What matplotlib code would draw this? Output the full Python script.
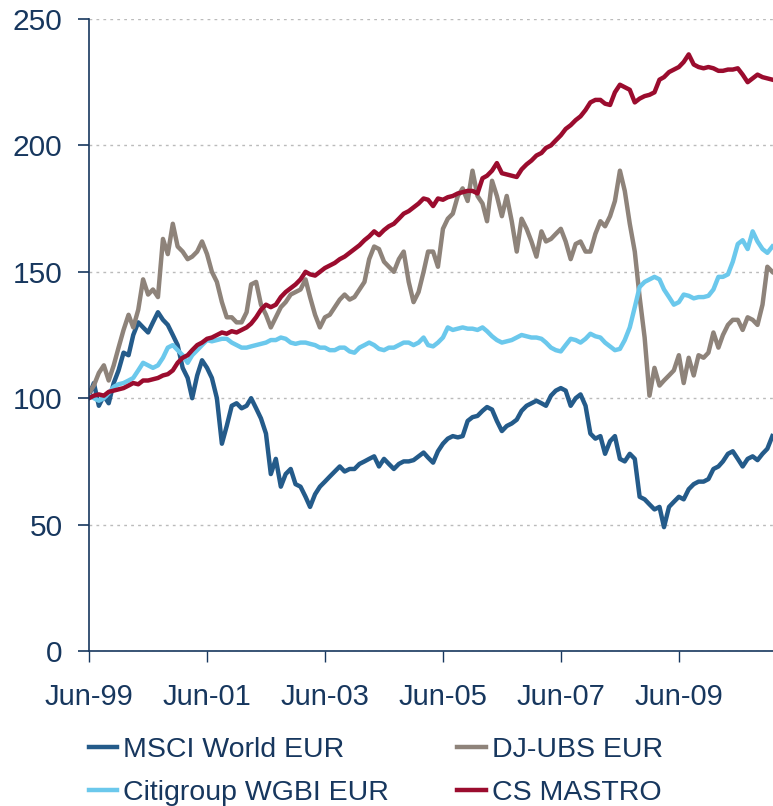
import matplotlib
matplotlib.use("Agg")
import matplotlib.pyplot as plt
import matplotlib.dates as mdates
import pandas as pd

plt.rcParams['font.family'] = ['Liberation Sans', 'DejaVu Sans']

dates = pd.date_range('1999-06-01', periods=140, freq='MS')

msci_world_eur = [
    101, 106, 97, 101, 98, 106, 111, 118, 117, 125, 130, 128, 126, 130, 134, 131, 129, 125, 121, 112,
    108, 100, 109, 115, 112, 108, 100, 82, 89, 97, 98, 96, 97, 100, 96, 92, 86, 70, 76, 65,
    70, 72, 66, 65, 61, 57, 62, 65, 67, 69, 71, 73, 71, 72, 72, 74, 75, 76, 77, 73,
    76, 74, 72, 74, 75, 75, 75.5, 77, 78.5, 76.5, 74.5, 79, 82, 84, 85, 84.5, 85, 91, 92.5, 93,
    95, 96.5, 95.5, 91, 87, 89, 90, 91.5, 95, 97, 98, 99, 98, 97, 101, 103, 104, 103, 97, 100,
    101.5, 97, 86, 84, 85, 78, 83, 85, 76, 75, 78, 76, 61, 60, 58, 56, 57, 49, 57, 59,
    61, 60, 64, 66, 67, 67, 68, 72, 73, 75, 78, 79, 76, 73, 76, 77, 75.5, 78, 80, 85,
]

dj_ubs_eur = [
    102, 105, 110, 113, 107, 113, 120, 127, 133, 128, 135, 147, 141, 143, 140, 163, 157, 169, 160, 158,
    155, 156, 158, 162, 157, 150, 146, 138, 132, 132, 130, 130, 134, 145, 146, 137, 133, 128, 132, 136,
    138, 141, 142, 143, 147, 140, 133, 128, 132, 133, 136, 139, 141, 139, 140, 143, 146, 155, 160, 159,
    154, 152, 150, 155, 158, 146, 138, 142, 150, 158, 158, 152, 167, 171, 173, 180, 183, 178, 190, 180,
    177, 170, 186, 180, 172, 180, 170, 158, 171, 167, 162, 156, 166, 162, 163, 165, 167, 162, 155, 161,
    162, 158, 158, 165, 170, 168, 172, 178, 190, 182, 169, 158, 140, 124, 101, 112, 105, 107, 109, 111,
    117, 106, 116, 109, 117, 116, 118, 126, 120, 125, 129, 131, 131, 127, 132, 131, 129, 137, 152, 150,
]

citigroup_wgbi_eur = [
    101, 100, 99, 100, 102, 104.5, 105.5, 106, 107, 108, 111, 114, 113, 112, 113, 116, 120, 121, 119, 117,
    114, 117, 119, 121, 123, 122.5, 123, 123.5, 123.5, 122, 121, 120, 120, 120.5, 121, 121.5, 122, 123, 123, 124,
    123.5, 122, 121.5, 122, 122, 121.5, 121, 120, 120, 119, 119, 120, 120, 118.5, 118, 120, 121, 122, 121, 119.5,
    119, 120, 120, 121, 122, 122, 121, 122, 124, 121, 120.5, 122, 124, 128, 127, 127.5, 128, 127.5, 127.5, 127,
    128, 126.5, 124.5, 123, 122, 122.5, 123, 124, 125, 124.5, 124, 124, 123.5, 122, 120, 119, 118.5, 121, 123.5, 123,
    122, 123.5, 125.5, 124.5, 124, 122, 120.5, 119, 119.5, 123, 128, 136, 144, 146, 147, 148, 147, 143, 140, 137,
    138, 141, 140.5, 139.5, 140, 140, 140.5, 143, 148, 148, 149, 154, 161, 162.5, 159, 166, 162, 159, 157.5, 160,
]

cs_mastro = [
    100, 101, 101.5, 101, 102.5, 103, 103.5, 104, 105, 106, 105.5, 107, 107, 107.5, 108, 109, 109.5, 111, 114, 116,
    117, 119, 121, 122, 123.5, 124, 125, 126, 125.5, 126.5, 126, 127, 128, 129.5, 132, 135, 137, 136, 137, 140,
    142, 143.5, 145, 147, 150, 149, 148.5, 150, 151.5, 152.5, 153.5, 155, 156, 157.5, 159, 160.5, 162.5, 164, 166, 164.5,
    166.5, 168, 169, 171, 173, 174, 175.5, 177, 179, 178.5, 176, 179, 178.5, 179.5, 180, 181, 181.5, 182, 182, 181,
    187, 188, 190, 193, 189, 188.5, 188, 187.5, 190.5, 192.5, 194, 196, 197, 199, 200, 202, 204, 206.5, 208, 210,
    211.5, 214, 217, 218, 218, 216.5, 216, 221, 224, 223, 222, 217, 218.5, 219.5, 220, 221, 226, 227, 229, 230,
    231, 233, 236, 232, 231, 230.5, 231, 230.5, 229.5, 229.5, 230, 230, 230.5, 228, 225, 226.5, 228, 227, 226.5, 226,
]

series_names = ['MSCI World EUR', 'DJ-UBS EUR', 'Citigroup WGBI EUR', 'CS MASTRO']
series_values = [msci_world_eur, dj_ubs_eur, citigroup_wgbi_eur, cs_mastro]
series_colors = ['#245B8A', '#8E837A', '#6BC8EC', '#9B0C2E']

y_ticks = [0, 50, 100, 150, 200, 250]
x_tick_dates = pd.to_datetime(['1999-06-01', '2001-06-01', '2003-06-01', '2005-06-01',
                               '2007-06-01', '2009-06-01'])

navy = '#17375E'

fig = plt.figure(figsize=(7.73, 8.06), dpi=100)
ax = fig.add_axes([89 / 773, 1 - 651 / 806, 684 / 773, (651 - 19) / 806])

lines = {}
for name, vals, col in zip(series_names, series_values, series_colors):
    ln, = ax.plot(dates, vals, color=col, lw=3.2, solid_joinstyle='round', label=name)
    lines[name] = ln

ax.set_ylim(0, 250)
ax.set_xlim(pd.Timestamp('1999-06-01'), pd.Timestamp('2011-01-05'))
ax.set_yticks(y_ticks)
ax.set_xticks(x_tick_dates)
ax.xaxis.set_major_formatter(mdates.DateFormatter('%b-%y'))

ax.grid(axis='y', color='#BBBBBB', linestyle=(0, (2, 3)), linewidth=1.0)
ax.set_axisbelow(True)

for s in ['top', 'right']:
    ax.spines[s].set_visible(False)
for s in ['left', 'bottom']:
    ax.spines[s].set_color(navy)
    ax.spines[s].set_linewidth(1.2)

ax.tick_params(axis='y', direction='out', length=8, width=1.2, color=navy,
               labelsize=21.5, labelcolor=navy, pad=11)
ax.tick_params(axis='x', direction='out', length=8, width=1.0, color=navy,
               labelsize=21, labelcolor=navy, pad=15)

order = ['MSCI World EUR', 'Citigroup WGBI EUR', 'DJ-UBS EUR', 'CS MASTRO']
leg = fig.legend([lines[n] for n in order], order, ncol=2, frameon=False,
                 loc='upper left', bbox_to_anchor=(89 / 773, 1 - 737 / 806),
                 borderpad=0, borderaxespad=0, handlelength=1.0, handletextpad=0.2,
                 columnspacing=2.4, labelspacing=0.6, fontsize=20.5)
for t in leg.get_texts():
    t.set_color(navy)

fig.savefig('out.png', dpi=100)
